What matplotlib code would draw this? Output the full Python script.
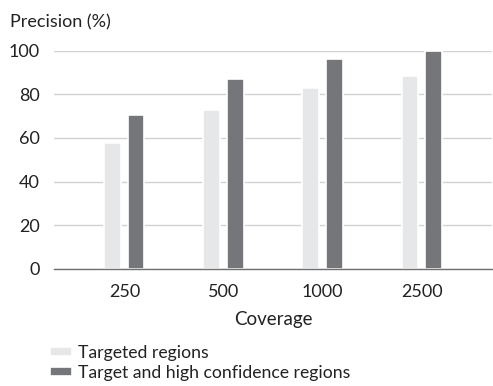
import numpy as np
import matplotlib.pyplot as plt

plt.rcParams['font.family'] = ['Lato', 'DejaVu Sans']

# Precision by sequencing coverage
coverage = ['250', '500', '1000', '2500']
targeted = [57.5, 72.8, 82.8, 88.4]
high_conf = [70.4, 86.9, 96.0, 100.0]

fig = plt.figure(figsize=(4.93, 3.86), dpi=100)
ax = fig.add_axes([54 / 493, 1 - 268.7 / 386, 438 / 493, 218 / 386])

x = np.arange(len(coverage))
w = 0.17
off = 0.118
ax.bar(x - off, targeted, w, color='#e6e7e9', edgecolor='white', linewidth=1.2,
       label='Targeted regions', zorder=2, clip_on=False)
ax.bar(x + off, high_conf, w, color='#75767a', edgecolor='white', linewidth=1.2,
       label='Target and high confidence regions', zorder=2, clip_on=False)

ax.set_xlim(-0.71, 3.71)
ax.set_ylim(0, 100)
ax.set_yticks(range(0, 101, 20))
ax.set_xticks(x)
ax.set_xticklabels(coverage)
ax.yaxis.grid(True, color='#d2d2d2', linewidth=1.0)
ax.set_axisbelow(True)

for s in ['top', 'right', 'left']:
    ax.spines[s].set_visible(False)
ax.spines['bottom'].set_color('#707070')
ax.spines['bottom'].set_linewidth(1.0)
ax.spines['bottom'].set_zorder(3)

ax.tick_params(axis='both', length=0, labelsize=13, colors='#222222')
ax.tick_params(axis='y', pad=10)
ax.tick_params(axis='x', pad=11)
ax.set_xlabel('Coverage', fontsize=13.5, color='#222222', labelpad=8)

fig.text(10 / 493, 1 - 22 / 386, 'Precision (%)', fontsize=13, color='#222222',
         va='center', ha='left')

fig.legend(loc='upper left', bbox_to_anchor=(50 / 493, 1 - 345 / 386),
           frameon=False, fontsize=12.7, handlelength=1.25, handleheight=0.4,
           handletextpad=0.35, labelspacing=0.22, borderaxespad=0, borderpad=0,
           labelcolor='#222222')

fig.savefig('out.png', dpi=100)
